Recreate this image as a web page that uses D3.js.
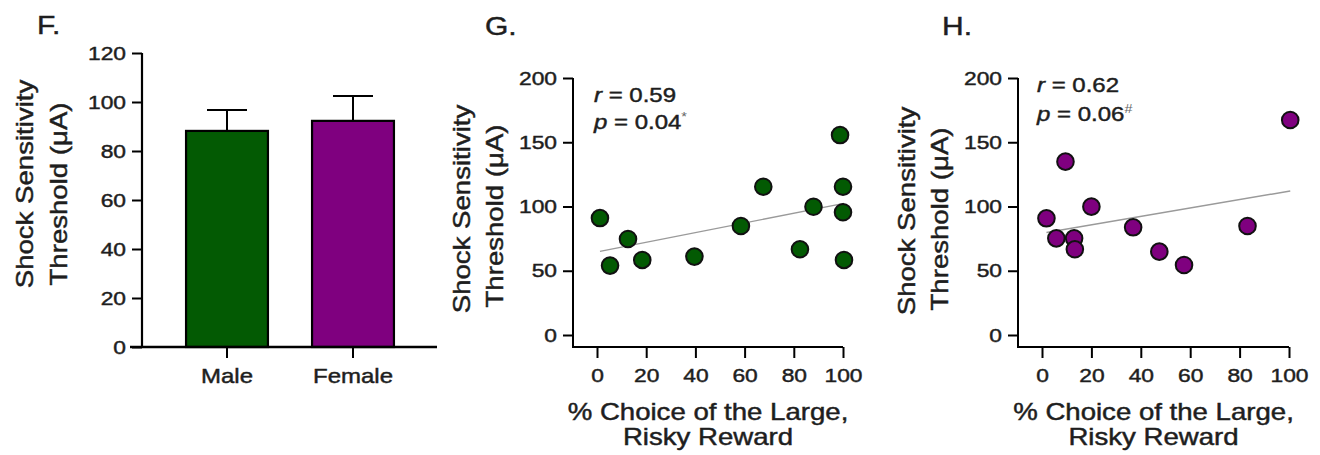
<!DOCTYPE html>
<html>
<head>
<meta charset="utf-8">
<script src="https://cdn.jsdelivr.net/npm/d3@7"></script>
<style>
  body { margin: 0; background: #fff; }
  text { font-family: "Liberation Sans", Arial, sans-serif; fill: #1e1e1e; stroke: #1e1e1e; stroke-width: 0.45px; }
</style>
</head>
<body>
<script>
// ---- data ----
const groups = ["Male", "Female"];
const groupMeans = [88.2, 92.3];
const groupSem = [8.5, 10.2];
const groupColors = ["#035a03", "#7f007f"];
const barTicks = [0, 20, 40, 60, 80, 100, 120];

const maleChoice = [1.2, 12.6, 5.3, 18.4, 39.6, 58.5, 67.6, 82.5, 88, 98.8, 100, 100, 100.4];
const maleThreshold = [91, 74.7, 54, 58.4, 61, 84.8, 115.4, 66.7, 99.8, 155.6, 115.4, 95.5, 58.4];
const femaleChoice = [1.8, 9.5, 20, 36.9, 5.8, 13, 13.3, 47.5, 57.5, 83.2, 100.5];
const femaleThreshold = [90.8, 134.9, 99.9, 83.8, 75.2, 75.2, 66.7, 64.9, 54.5, 84.8, 167.3];

const choiceTicks = [0, 20, 40, 60, 80, 100];
const thresholdTicks = [0, 50, 100, 150, 200];
const maleStats = { r: "0.59", p: "0.04", mark: "*" };
const femaleStats = { r: "0.62", p: "0.06", mark: "#" };

const width = 1320;
const height = 455;
const K = 1.2; // the figure's font is wider than Arial

const svg = d3.select("body").append("svg")
    .attr("width", width)
    .attr("height", height);

// widen text horizontally (in its own direction)
function stretch(sel, rot) {
    sel.each(function () {
        const t = d3.select(this);
        const x = +t.attr("x") || 0;
        const y = +t.attr("y") || 0;
        t.attr("x", 0).attr("y", 0)
         .attr("transform", `translate(${x},${y})${rot ? " rotate(" + rot + ")" : ""} scale(${K},1)`);
    });
}

function label(x, y, str, size, anchor, rot) {
    const t = svg.append("text")
        .attr("x", x).attr("y", y)
        .attr("font-size", size)
        .attr("text-anchor", anchor || "middle")
        .text(str);
    stretch(t, rot);
    return t;
}

function yAxis(scale, ticks, x, lw) {
    const g = svg.append("g")
        .attr("transform", `translate(${x},0)`)
        .call(d3.axisLeft(scale).tickValues(ticks).tickSize(10).tickPadding(6).tickSizeOuter(0));
    g.select(".domain").remove();
    g.selectAll("line").attr("stroke", "#000").attr("stroke-width", lw);
    g.selectAll("text").attr("font-size", 19).attr("font-family", null).attr("fill", null);
    g.selectAll("text").call(stretch);
    return g;
}

function xAxis(scale, ticks, y, lw, fsize) {
    const ax = d3.axisBottom(scale).tickSize(11).tickPadding(11).tickSizeOuter(0);
    if (ticks) ax.tickValues(ticks);
    const g = svg.append("g")
        .attr("transform", `translate(0,${y})`)
        .call(ax);
    g.select(".domain").remove();
    g.selectAll("line").attr("stroke", "#000").attr("stroke-width", lw);
    g.selectAll("text").attr("font-size", fsize || 19).attr("font-family", null).attr("fill", null);
    g.selectAll("text").call(stretch);
    return g;
}

function yTitle(x1, c1, x2, c2) {
    label(x1, c1, "Shock Sensitivity", 23, "middle", -90);
    label(x2, c2, "Threshold (μA)", 23, "middle", -90);
}

// ---------------- Panel F: bars ----------------
const yF = d3.scaleLinear().domain([0, 120]).range([347, 53]);
const xF = d3.scaleBand().domain(groups).range([164, 416]).paddingInner(0.35).paddingOuter(0.175);

svg.selectAll(".bar")
    .data(groups)
    .enter().append("rect")
    .attr("x", d => xF(d))
    .attr("y", (d, i) => yF(groupMeans[i]))
    .attr("width", xF.bandwidth())
    .attr("height", (d, i) => yF(0) - yF(groupMeans[i]))
    .attr("fill", (d, i) => groupColors[i])
    .attr("stroke", "#000")
    .attr("stroke-width", 2.2);

// error bars (upper only)
groups.forEach((d, i) => {
    const cx = xF(d) + xF.bandwidth() / 2;
    const top = yF(groupMeans[i] + groupSem[i]);
    svg.append("line").attr("x1", cx).attr("x2", cx)
        .attr("y1", yF(groupMeans[i])).attr("y2", top)
        .attr("stroke", "#000").attr("stroke-width", 2);
    svg.append("line").attr("x1", cx - 20).attr("x2", cx + 20)
        .attr("y1", top).attr("y2", top)
        .attr("stroke", "#000").attr("stroke-width", 2);
});

yAxis(yF, barTicks, 142, 2);
svg.append("line").attr("x1", 142).attr("x2", 142).attr("y1", yF(120)).attr("y2", yF(0))
    .attr("stroke", "#000").attr("stroke-width", 2.2);
xAxis(xF, null, 347, 2, 20);
svg.append("line").attr("x1", 130).attr("x2", 437).attr("y1", 347).attr("y2", 347)
    .attr("stroke", "#000").attr("stroke-width", 2.6);

label(37, 34, "F.", 25, "start");
yTitle(33, 184, 67, 194);

// ---------------- scatter panels ----------------
function scatter(opt) {
    const x = d3.scaleLinear().domain([0, 100]).range([opt.x0, opt.x1]);
    const y = d3.scaleLinear().domain([0, 200]).range([335, 78]);

    // regression line (least squares)
    const mx = d3.mean(opt.xs), my = d3.mean(opt.ys);
    const sxy = d3.sum(opt.xs, (v, i) => (v - mx) * (opt.ys[i] - my));
    const sxx = d3.sum(opt.xs, v => (v - mx) * (v - mx));
    const slope = sxy / sxx, icpt = my - slope * mx;
    const [lo, hi] = d3.extent(opt.xs);
    svg.append("line")
        .attr("x1", x(lo)).attr("y1", y(icpt + slope * lo))
        .attr("x2", x(hi)).attr("y2", y(icpt + slope * hi))
        .attr("stroke", "#9a9a9a").attr("stroke-width", 1.4);

    svg.append("g").selectAll("circle")
        .data(opt.xs)
        .enter().append("circle")
        .attr("cx", d => x(d))
        .attr("cy", (d, i) => y(opt.ys[i]))
        .attr("r", 8.3)
        .attr("fill", opt.color)
        .attr("stroke", "#111")
        .attr("stroke-width", 2);

    yAxis(y, thresholdTicks, opt.ax, 2);
    svg.append("line").attr("x1", opt.ax).attr("x2", opt.ax).attr("y1", 78).attr("y2", 347)
        .attr("stroke", "#000").attr("stroke-width", 2);
    xAxis(x, choiceTicks, 347, 2);
    svg.append("line").attr("x1", opt.ax - 1).attr("x2", opt.x1).attr("y1", 347).attr("y2", 347)
        .attr("stroke", "#000").attr("stroke-width", 2);

    // stats
    const r = svg.append("text").attr("x", opt.tx).attr("y", opt.ty).attr("font-size", 20);
    r.append("tspan").attr("font-style", "italic").text("r");
    r.append("tspan").text(" = " + opt.stats.r);
    stretch(r);
    const p = svg.append("text").attr("x", opt.tx).attr("y", opt.ty + opt.gap).attr("font-size", 20);
    p.append("tspan").attr("font-style", "italic").text("p");
    p.append("tspan").text(" = " + opt.stats.p);
    p.append("tspan").attr("font-size", 12).attr("dy", -8).attr("font-style", opt.stats.mark === "#" ? "italic" : null)
        .attr("fill", "#666").attr("stroke", "none").text(opt.stats.mark);
    stretch(p);

    label(opt.letterX, 35, opt.letter, 25, "start");
    yTitle(opt.t1, opt.c1, opt.t2, opt.c2);
    const cx = (opt.x0 + opt.x1) / 2 - 12;
    label(cx, 420, "% Choice of the Large,", 23);
    label(cx, 445, "Risky Reward", 23);
}

scatter({
    xs: maleChoice, ys: maleThreshold, color: groupColors[0],
    x0: 597, x1: 843, ax: 573, stats: maleStats, tx: 594, ty: 102, gap: 27,
    letter: "G.", letterX: 485, t1: 470, c1: 209, t2: 503, c2: 216
});
scatter({
    xs: femaleChoice, ys: femaleThreshold, color: groupColors[1],
    x0: 1042, x1: 1289, ax: 1018, stats: femaleStats, tx: 1037, ty: 92, gap: 29,
    letter: "H.", letterX: 942, t1: 915, c1: 211, t2: 948, c2: 219
});
</script>
</body>
</html>
